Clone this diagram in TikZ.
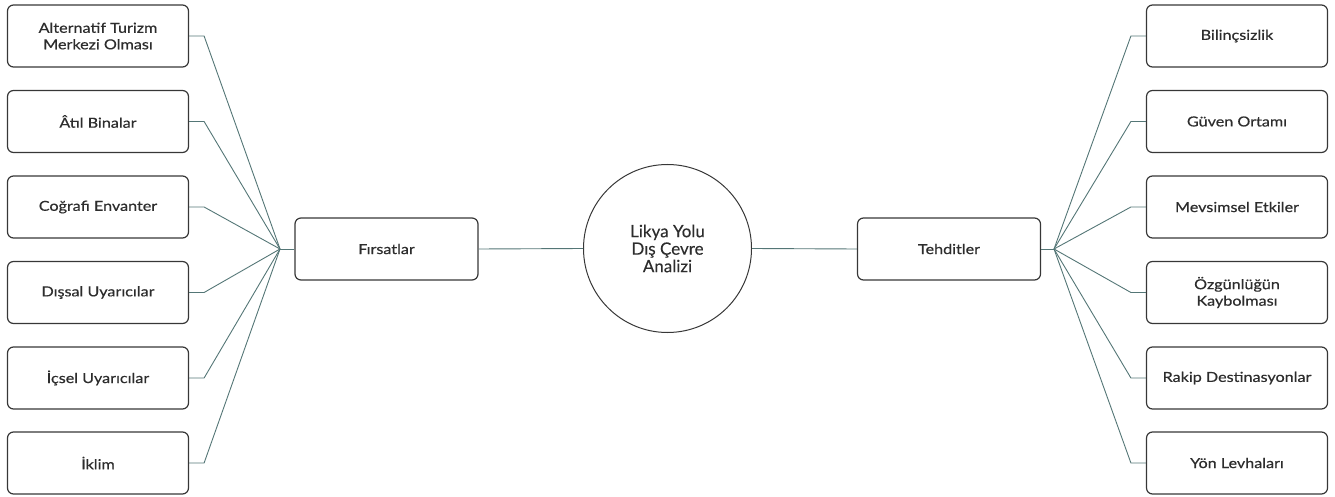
\documentclass[tikz,border=0pt]{standalone}
\usepackage{fontspec}
\setmainfont{Lato}
\newfontfamily\leaffont[FakeStretch=1.17,FakeBold=0.5]{Lato}
\newfontfamily\hubfont[FakeBold=0.2]{Lato}
\definecolor{connc}{RGB}{84,118,118}
\definecolor{boxc}{RGB}{55,55,55}
\definecolor{txtc}{RGB}{45,45,45}
\begin{document}
\begin{tikzpicture}[x=1pt,y=-1pt,
  leaf/.style={draw=boxc,line width=1.2pt,rounded corners=6pt,minimum width=181pt,minimum height=62pt,align=center,font=\leaffont\fontsize{13.8}{16.5}\selectfont,text=txtc,inner sep=0pt},
  mid/.style={leaf,minimum width=183pt},
  hubc/.style={draw=boxc,line width=1pt,circle,minimum size=168pt,align=center,font=\hubfont\fontsize{17}{17.5}\selectfont,text=txtc,inner sep=0pt},
  conn/.style={draw=connc,line width=0.9pt}]
\useasboundingbox (0,0) rectangle (1335,497);
% center
\node[hubc] (c) at (667.5,248.5) {Likya Yolu\\Dış Çevre\\Analizi};
\node[mid] (f) at (386.5,249) {Fırsatlar};
\node[mid] (t) at (949,249) {Tehditler};
\coordinate (hl) at (280,249);
\coordinate (hr) at (1054,249);
% left leaves
\node[leaf] (l1) at (98,36) {Alternatif Turizm\\Merkezi Olması};
\node[leaf] (l2) at (98,121.5) {Âtıl Binalar};
\node[leaf] (l3) at (98,207) {Coğrafi Envanter};
\node[leaf] (l4) at (98,292.5) {Dışsal Uyarıcılar};
\node[leaf] (l5) at (98,378) {İçsel Uyarıcılar};
\node[leaf] (l6) at (98,463) {İklim};
% right leaves
\node[leaf] (r1) at (1237,36) {Bilinçsizlik};
\node[leaf] (r2) at (1237,121.5) {Güven Ortamı};
\node[leaf] (r3) at (1237,207) {Mevsimsel Etkiler};
\node[leaf] (r4) at (1237,292.5) {Özgünlüğün\\Kaybolması};
\node[leaf] (r5) at (1237,378) {Rakip Destinasyonlar};
\node[leaf] (r6) at (1237,463) {Yön Levhaları};
% connectors
\draw[conn] (f.east) -- (c.west);
\draw[conn] (c.east) -- (t.west);
\draw[conn] (f.west) -- (hl);
\draw[conn] (t.east) -- (hr);
\foreach \n in {l1,l2,l3,l4,l5,l6}{
  \draw[conn] (\n.east) -- ++(15,0) -- (hl);
}
\foreach \n in {r1,r2,r3,r4,r5,r6}{
  \draw[conn] (\n.west) -- ++(-15,0) -- (hr);
}
\end{tikzpicture}
\end{document}
